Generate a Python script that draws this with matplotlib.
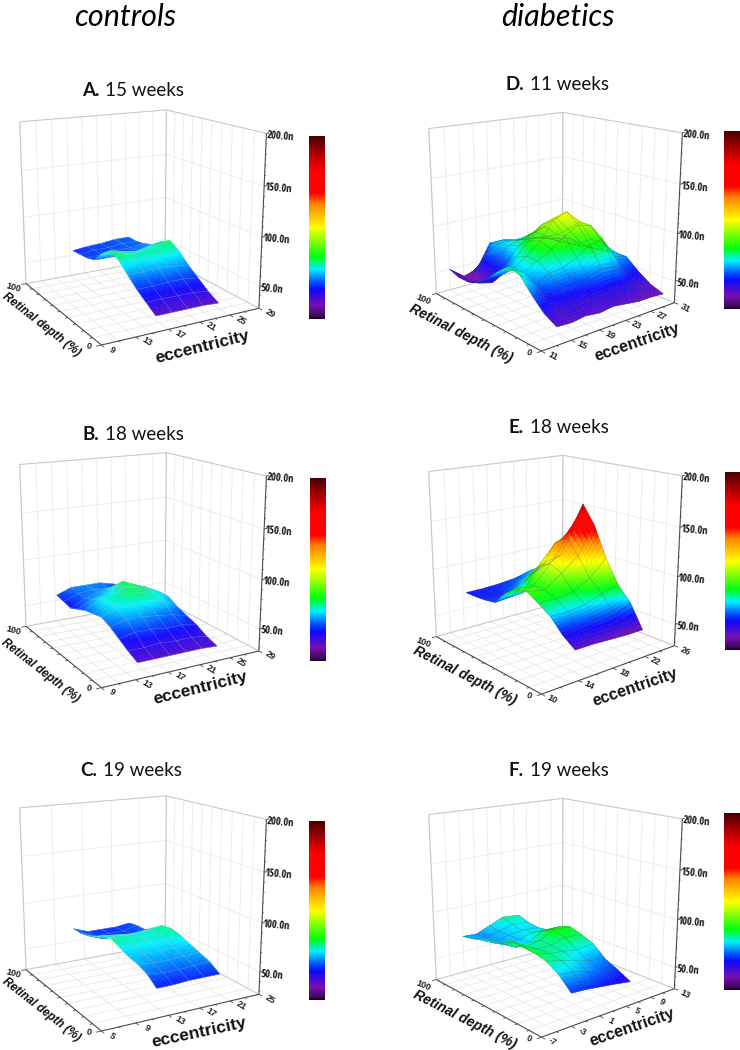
"""Six retinal depth/eccentricity surfaces, controls against diabetics."""

import matplotlib

matplotlib.use("Agg")
import matplotlib.pyplot as plt
import numpy as np
from matplotlib.colors import LinearSegmentedColormap, Normalize
from mpl_toolkits.mplot3d import proj3d

WIDTH, HEIGHT = 740, 1050

# values, rows follow depth, columns follow ecc
depth = [0, 10, 20, 30, 40, 50, 60, 70, 80, 90, 100]

ecc_a = [15.4, 17.4, 19.4, 21.4, 23.4]
height_a = [
    [43, 43, 43, 43, 42],
    [50, 50, 50, 50, 48],
    [57, 57, 58, 58, 56],
    [66, 66, 67, 66, 64],
    [75, 74, 74, 74, 74],
    [80, 76, 74, 76, 80],
    [72, 70, 66, 70, 74],
    [60, 60, 60, 62, 66],
    [57, 58, 60, 60, 62],
    [56, 58, 58, 60, 60],
    [55, 57, 58, 60, 60],
]

ecc_b = [13.2, 15.2, 17.2, 19.2, 21.2, 23.2]
height_b = [
    [43, 43, 43, 43, 43, 42],
    [48, 48, 49, 48, 48, 46],
    [54, 57, 57, 55, 55, 52],
    [60, 64, 64, 62, 60, 56],
    [64, 70, 72, 72, 70, 60],
    [62, 72, 76, 76, 72, 66],
    [60, 70, 72, 80, 74, 66],
    [56, 64, 68, 78, 70, 62],
    [52, 60, 64, 68, 64, 58],
    [54, 60, 62, 60, 58, 56],
    [56, 62, 62, 62, 58, 52],
]

ecc_c = [11.5, 13.5, 15.5, 17.5, 19.5]
height_c = [
    [56, 56, 57, 57, 57],
    [64, 62, 62, 63, 64],
    [68, 66, 66, 67, 68],
    [70, 70, 70, 70, 72],
    [74, 74, 74, 74, 76],
    [78, 76, 74, 76, 78],
    [76, 74, 72, 74, 76],
    [70, 66, 66, 66, 68],
    [66, 60, 60, 60, 62],
    [64, 58, 58, 58, 62],
    [64, 58, 58, 58, 60],
]

ecc_d = [13, 15, 17, 19, 21, 23, 25, 27, 29]
height_d = [
    [45, 44, 46, 44, 46, 44, 42, 42, 41],
    [52, 48, 50, 50, 52, 52, 52, 47, 46],
    [64, 56, 60, 60, 66, 70, 68, 58, 55],
    [78, 66, 72, 74, 80, 90, 92, 70, 66],
    [82, 72, 80, 88, 98, 106, 102, 80, 66],
    [72, 70, 80, 92, 110, 116, 102, 80, 64],
    [60, 60, 74, 88, 102, 106, 90, 72, 62],
    [50, 46, 62, 78, 88, 92, 80, 72, 60],
    [46, 42, 60, 74, 78, 82, 74, 68, 58],
    [46, 38, 64, 72, 72, 70, 68, 64, 56],
    [50, 38, 42, 68, 68, 64, 62, 60, 55],
]

ecc_e = [13.6, 15.6, 17.6, 19.6, 21.6]
height_e = [
    [58, 58, 57, 56, 56],
    [67, 68, 70, 72, 79],
    [80, 80, 82, 88, 93],
    [88, 88, 90, 100, 116],
    [95, 92, 105, 118, 146],
    [93, 92, 110, 132, 165],
    [84, 80, 105, 125, 130],
    [70, 72, 88, 100, 104],
    [68, 68, 75, 85, 92],
    [67, 67, 70, 75, 83],
    [67, 67, 68, 70, 75],
]

ecc_f = [-3, -1, 1, 3, 5.6]
height_f = [
    [59, 58, 56, 54, 51],
    [71, 70, 66, 62, 58],
    [79, 76, 72, 68, 64],
    [82, 78, 76, 74, 75],
    [83, 78, 78, 82, 80],
    [84, 76, 78, 86, 84],
    [78, 70, 72, 80, 80],
    [74, 68, 70, 74, 72],
    [72, 67, 70, 72, 70],
    [69, 66, 70, 74, 72],
    [67, 66, 72, 78, 76],
]

z_floor = 27
z_top = 200
z_ticks = [50, 100, 150, 200]
z_labels = ["50.0n", "100.0n", "150.0n", "200.0n"]
z_minor = [30, 40, 60, 70, 80, 90, 110, 120, 130, 140, 160, 170, 180, 190]

# rainbow of the colour bars, position from the bottom and colour
bar_stops = [
    (0.0, "#120018"),
    (0.012, "#3a0a55"),
    (0.07, "#7810b0"),
    (0.16, "#1008ff"),
    (0.2, "#0050ff"),
    (0.27, "#00f0ff"),
    (0.34, "#00ff10"),
    (0.5, "#ffff00"),
    (0.63, "#ff8000"),
    (0.69, "#ff0000"),
    (0.81, "#ff0000"),
    (0.92, "#9c0000"),
    (1.0, "#480000"),
]
RAINBOW = LinearSegmentedColormap.from_list("origin_rainbow", bar_stops)

VIEW_CONTROLS = dict(elev=15.3856, azim=-119.4256, focal=0.501, aspect=(1, 1.0236, 1.001), scale=1595.362)
VIEW_DIABETICS = dict(elev=16.0271, azim=-129.6491, focal=0.4806, aspect=(1, 1.0156, 1.0049), scale=1584.592)

PANELS = [
    dict(bold="A.", week="15 weeks", view=VIEW_CONTROLS, ecc=ecc_a, height=height_a, ticks=[9, 13, 17, 21, 25, 29],
         origin=(137.7, 213.8), title=(99, 91), bar=(308.5, 136, 324.5, 319), label_x=(202, 347, 14),
         label_y=(41, 325, -38), divisions=10, limits=(25, 195)),
    dict(bold="B.", week="18 weeks", view=VIEW_CONTROLS, ecc=ecc_b, height=height_b, ticks=[9, 13, 17, 21, 25, 29],
         origin=(137.7, 556.5), title=(99, 434), bar=(309.5, 478, 325, 661), label_x=(200, 688, 14),
         label_y=(40, 671, -38), divisions=10, limits=(25, 190)),
    dict(bold="C.", week="19 weeks", view=VIEW_CONTROLS, ecc=ecc_c, height=height_c, ticks=[5, 9, 13, 17, 21, 25],
         origin=(137.7, 899.8), title=(97, 770), bar=(308.5, 821, 324.5, 1000), label_x=(199, 1033, 12),
         label_y=(41, 1010, -38), divisions=5, limits=(27, 195)),
    dict(bold="D.", week="11 weeks", view=VIEW_DIABETICS, ecc=ecc_d, height=height_d, ticks=[11, 15, 19, 23, 27, 31],
         origin=(553.5, 217), title=(524, 85), bar=(723.5, 131, 739.5, 309), label_x=(637, 342, 19),
         label_y=(461, 334, -27), divisions=10, limits=(27, 200)),
    dict(bold="E.", week="18 weeks", view=VIEW_DIABETICS, ecc=ecc_e, height=height_e, ticks=[10, 14, 18, 22, 26],
         origin=(553.5, 560), title=(524, 427), bar=(724.5, 472, 740, 650), label_x=(635, 687, 19),
         label_y=(465, 676, -27), divisions=10, limits=(45, 175)),
    dict(bold="F.", week="19 weeks", view=VIEW_DIABETICS, ecc=ecc_f, height=height_f, ticks=[-7, -3, 1, 5, 9, 13],
         origin=(553.5, 903), title=(524, 770), bar=(723.5, 813, 739.5, 990), label_x=(632, 1027, 19),
         label_y=(465, 1020, -27), divisions=10, limits=(27, 195)),
]

FRAME = "#c9c9c9"
GRID = "#ececec"
AXIS = "#4a4a4a"


def refine(values, along, axis, steps=6):
    # subdivide facets so the colour runs smoothly between the read values
    old = np.arange(len(along))
    new = np.linspace(0, len(along) - 1, (len(along) - 1) * steps + 1)
    return np.apply_along_axis(lambda line: np.interp(new, old, line), axis, values)


def fig_x(px):
    return px / WIDTH


def fig_y(px):
    return 1 - px / HEIGHT


def line3(ax, xs, ys, zs, color, lw, zorder=1):
    line = ax.plot(xs, ys, zs, color=color, lw=lw, solid_capstyle="butt", zorder=zorder)[0]
    line.set_clip_on(False)


def draw_frame(ax, x0, x1, divisions):
    xgrid = np.linspace(x0, x1, divisions + 1)
    for value in xgrid[1:-1]:
        line3(ax, [value, value], [100, 100], [z_floor, z_top], GRID, 0.7)
        line3(ax, [value, value], [0, 100], [z_floor, z_floor], GRID, 0.7)
    for value in depth[1:-1]:
        line3(ax, [x1, x1], [value, value], [z_floor, z_top], GRID, 0.7)
        line3(ax, [x0, x1], [value, value], [z_floor, z_floor], GRID, 0.7)
    for value in z_ticks[:-1]:
        line3(ax, [x0, x1], [100, 100], [value, value], GRID, 0.7)
        line3(ax, [x1, x1], [0, 100], [value, value], GRID, 0.7)
    line3(ax, [x0, x1, x1], [100, 100, 0], [z_top, z_top, z_top], FRAME, 0.8)
    line3(ax, [x0, x0], [100, 100], [z_floor, z_top], FRAME, 0.9)
    line3(ax, [x1, x1], [100, 100], [z_floor, z_top], FRAME, 0.9)
    line3(ax, [x0, x1], [100, 100], [z_floor, z_floor], FRAME, 0.8)
    line3(ax, [x1, x1], [0, 100], [z_floor, z_floor], FRAME, 0.8)
    line3(ax, [x0, x1], [0, 0], [z_floor, z_floor], AXIS, 0.8)
    line3(ax, [x0, x0], [0, 100], [z_floor, z_floor], AXIS, 0.8)
    line3(ax, [x1, x1], [0, 0], [z_floor, z_top], AXIS, 0.8)


def draw_ticks(ax, ticks, x0, x1):
    span = x1 - x0
    step = (ticks[1] - ticks[0]) / 2
    for value in np.arange(x0, x1 + 0.01, step):
        reach = 3 if (value - x0) % (2 * step) == 0 else 1.6
        line3(ax, [value, value], [0, -reach], [z_floor, z_floor], AXIS, 0.6)
    for value in depth:
        reach = 0.03 if value in (0, 100) else 0.016
        line3(ax, [x0, x0 - reach * span], [value, value], [z_floor, z_floor], AXIS, 0.6)
    for value in z_ticks:
        line3(ax, [x1, x1 + 0.02 * span], [0, 0], [value, value], AXIS, 0.7)
    for value in z_minor:
        line3(ax, [x1, x1 + 0.01 * span], [0, 0], [value, value], AXIS, 0.5)


def tick_label(fig, matrix, view, origin, point, text, offset, rotation, **style):
    x2d, y2d, _ = proj3d.proj_transform(*point, matrix)
    px = origin[0] + view["scale"] * x2d + offset[0]
    py = origin[1] - view["scale"] * y2d + offset[1]
    fig.text(fig_x(px), fig_y(py), text, rotation=rotation, rotation_mode="anchor",
             ha="center", va="center", **style)


def make_axes(fig, panel):
    view = panel["view"]
    ticks = panel["ticks"]
    ax = fig.add_axes([0, 0, 1, 1], projection="3d", computed_zorder=False)
    ax.set_box_aspect(view["aspect"])
    ax.view_init(elev=view["elev"], azim=view["azim"], roll=0)
    ax.set_proj_type("persp", focal_length=view["focal"])
    ax.set_xlim(ticks[0], ticks[-1])
    ax.set_ylim(0, 100)
    ax.set_zlim(z_floor, z_top)
    ax.set_axis_off()
    ax.patch.set_visible(False)

    # size the axes so one projected unit covers view["scale"] pixels
    scale = view["scale"]
    origin = panel["origin"]
    xview = ax.viewLim.intervalx
    yview = ax.viewLim.intervaly
    left = origin[0] + scale * xview[0]
    top = origin[1] - scale * yview[1]
    width = scale * (xview[1] - xview[0])
    height = scale * (yview[1] - yview[0])
    ax.set_position([fig_x(left), fig_y(top + height), width / WIDTH, height / HEIGHT])
    return ax


def draw_surface(ax, panel):
    view = panel["view"]
    ecc = np.asarray(panel["ecc"], float)
    rows = np.asarray(depth, float)
    values = np.asarray(panel["height"], float)
    norm = Normalize(*panel["limits"])

    fine_z = refine(refine(values, rows, 0), ecc, 1)
    fine_x = refine(ecc[None, :], ecc, 1)[0]
    fine_y = refine(rows[:, None], rows, 0)[:, 0]
    grid_x, grid_y = np.meshgrid(fine_x, fine_y)
    colors = RAINBOW(norm(fine_z))
    surface = ax.plot_surface(grid_x, grid_y, fine_z, facecolors=colors, rstride=1, cstride=1,
                              shade=False, linewidth=0.3, antialiased=True, zorder=3)
    surface.set_clip_on(False)

    mesh_x, mesh_y = np.meshgrid(ecc, rows)
    diabetic = view is VIEW_DIABETICS
    mesh = ax.plot_wireframe(mesh_x, mesh_y, values, rstride=1, cstride=1,
                             color="#505050" if diabetic else "#c8c8c8",
                             linewidth=0.4, alpha=0.4, zorder=4)
    mesh.set_clip_on(False)


def draw_labels(fig, ax, panel):
    view = panel["view"]
    origin = panel["origin"]
    ticks = panel["ticks"]
    x0, x1 = ticks[0], ticks[-1]
    matrix = ax.get_proj()
    diabetic = view is VIEW_DIABETICS

    tick_style = dict(fontsize=6.5, fontweight="bold", color="#222222")
    angle = -28 if diabetic else -32
    for value in ticks:
        tick_label(fig, matrix, view, origin, (value, 0, z_floor), str(value), (11, 5), angle, **tick_style)
    depth_angle = -22 if diabetic else -15
    depth_shift = (-13, 6) if diabetic else (-13, 4)
    tick_label(fig, matrix, view, origin, (x0, 100, z_floor), "100", depth_shift, depth_angle, **tick_style)
    tick_label(fig, matrix, view, origin, (x0, 0, z_floor), "0", (-13, 1), depth_angle, **tick_style)

    for value, text in zip(z_ticks, z_labels, strict=True):
        tick_label(fig, matrix, view, origin, (x1, 0, value), text, (14 if value > 50 else 12, 3), -5,
                   family="Open Sans Condensed", fontsize=7.5, fontweight="bold", color="#111111")

    x_pos = panel["label_x"]
    fig.text(fig_x(x_pos[0]), fig_y(x_pos[1]), "eccentricity", rotation=x_pos[2], rotation_mode="anchor",
             ha="center", va="center", fontsize=11.5 if diabetic else 12.5, fontweight="bold", color="#111111")
    y_pos = panel["label_y"]
    fig.text(fig_x(y_pos[0]), fig_y(y_pos[1]), "Retinal depth (%)", rotation=y_pos[2], rotation_mode="anchor",
             ha="center", va="center", fontsize=10 if diabetic else 8.5, fontweight="bold", style="italic",
             color="#111111")

    split_x, title_y = panel["title"]
    fig.text(fig_x(split_x), fig_y(title_y), panel["bold"], family="Lato", fontsize=13.5, fontweight="bold",
             ha="right", va="center", color="#111111")
    fig.text(fig_x(split_x + 6), fig_y(title_y), panel["week"], family="Lato", fontsize=13.5,
             ha="left", va="center", color="#111111")


def draw_bar(fig, panel):
    left, top, right, bottom = panel["bar"]
    bar = fig.add_axes([fig_x(left), fig_y(bottom), (right - left) / WIDTH, (bottom - top) / HEIGHT])
    bar.imshow(np.linspace(1, 0, 256)[:, None], cmap=RAINBOW, aspect="auto", vmin=0, vmax=1)
    bar.set_axis_off()


def main() -> None:
    plt.rcParams["font.family"] = ["Liberation Sans", "DejaVu Sans"]
    fig = plt.figure(figsize=(WIDTH / 100, HEIGHT / 100), dpi=100, facecolor="white")

    fig.text(fig_x(125), fig_y(17), "controls", family="Lato", style="italic", fontsize=22, ha="center", va="center")
    fig.text(fig_x(558), fig_y(17), "diabetics", family="Lato", style="italic", fontsize=22, ha="center", va="center")

    for panel in PANELS:
        ax = make_axes(fig, panel)
        ticks = panel["ticks"]
        draw_frame(ax, ticks[0], ticks[-1], panel["divisions"])
        draw_surface(ax, panel)
        draw_ticks(ax, ticks, ticks[0], ticks[-1])
        ax.set_xlim(ticks[0], ticks[-1])
        ax.set_ylim(0, 100)
        ax.set_zlim(z_floor, z_top)
        draw_labels(fig, ax, panel)
        draw_bar(fig, panel)

    fig.savefig("out.png", dpi=100, facecolor="white")


if __name__ == "__main__":
    main()
